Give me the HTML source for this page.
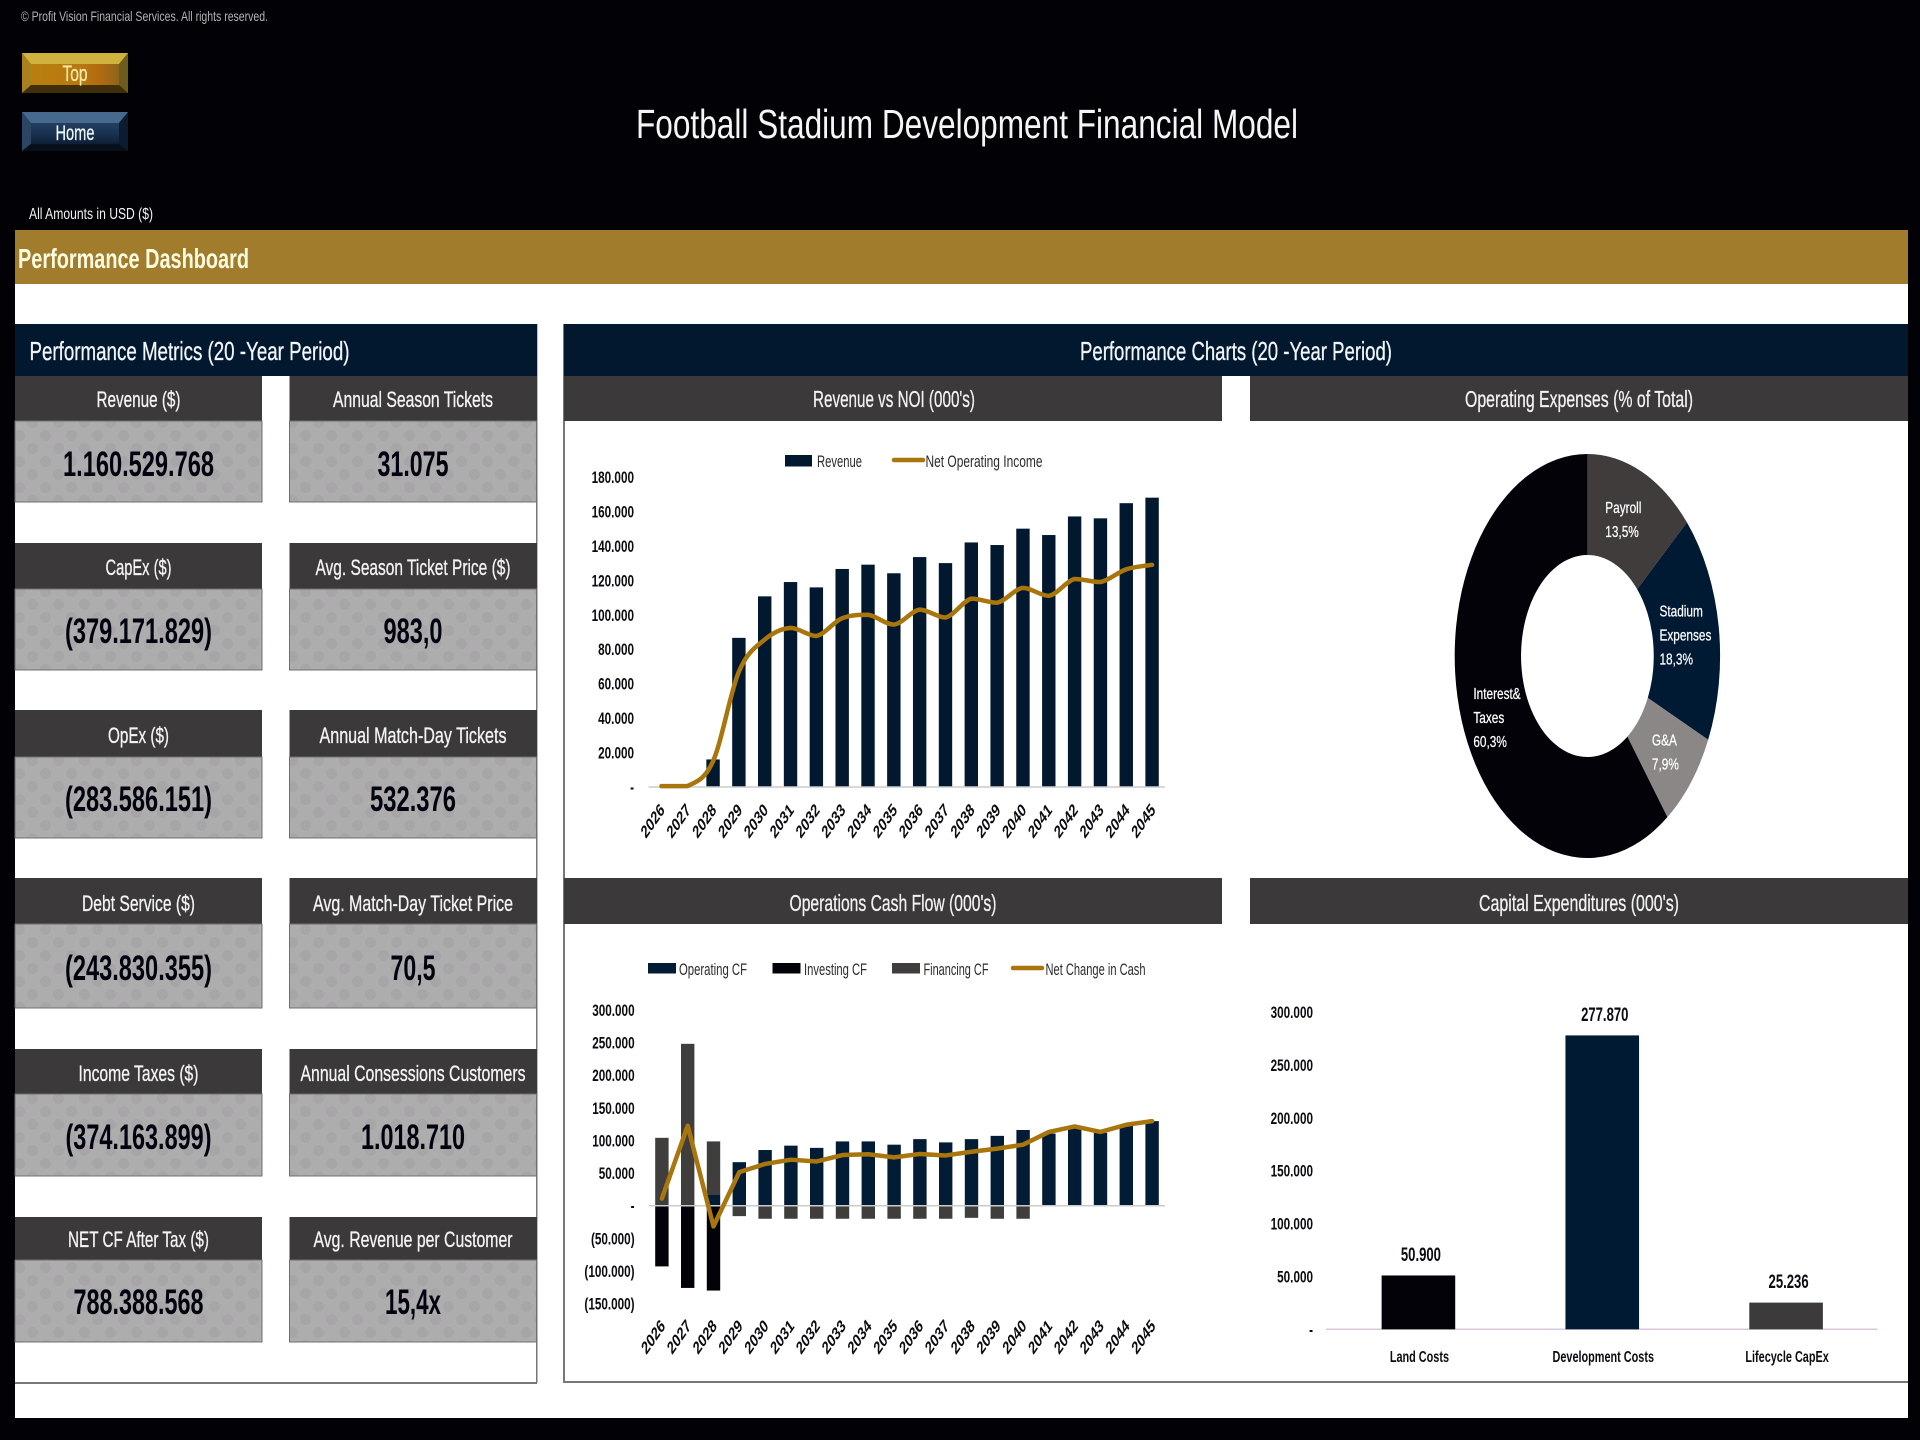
<!DOCTYPE html>
<html lang="en">
<head>
<meta charset="utf-8">
<title>Football Stadium Development Financial Model</title>
<style>
html,body{margin:0;padding:0;background:#010106;}
svg{display:block;}
text{font-family:"Liberation Sans",sans-serif;}
.h{fill:#f4f4f4;stroke:#f4f4f4;stroke-width:.3;font-size:22px;text-anchor:middle;}
.v{fill:#03030f;font-size:35px;font-weight:bold;text-anchor:middle;}
.hd{fill:#3b3939;}
.vb{fill:url(#mottle);stroke:#6f6f6f;stroke-width:1;}
.lg{fill:#2b2b2b;font-size:17px;}
.st{fill:#f2f2f2;stroke:#f2f2f2;stroke-width:.3;font-size:23px;text-anchor:middle;}
</style>
</head>
<body>
<svg id="page" xmlns="http://www.w3.org/2000/svg" width="1920" height="1440" viewBox="0 0 1920 1440">
<defs>
<pattern id="mottle" width="26" height="26" patternUnits="userSpaceOnUse">
<rect width="26" height="26" fill="#adadad"/>
<circle cx="6.5" cy="6.5" r="5.5" fill="#a8a5a8"/>
<circle cx="19.5" cy="19.5" r="5.5" fill="#a8a5a8"/>
</pattern>
<linearGradient id="gt" x1="0" y1="0" x2="1" y2="0">
<stop offset="0" stop-color="#b8800f"/><stop offset=".55" stop-color="#b9780f"/><stop offset=".75" stop-color="#b06a12"/><stop offset="1" stop-color="#7a6420"/>
</linearGradient>
<linearGradient id="gh" x1="0" y1="0" x2="0" y2="1">
<stop offset="0" stop-color="#2c4b70"/><stop offset=".6" stop-color="#17304e"/><stop offset="1" stop-color="#07121f"/>
</linearGradient>
</defs>
<rect width="1920" height="1440" fill="#010106"/>
<rect x="15" y="284" width="1893" height="1134" fill="#ffffff"/>

<text x="21" y="21" font-size="14" fill="#b4b4b4" textLength="247" lengthAdjust="spacingAndGlyphs">© Profit Vision Financial Services. All rights reserved.</text>
<g>
<rect x="22" y="53" width="106" height="40" fill="url(#gt)"/>
<polygon points="22,53 128,53 119,64 31,64" fill="#d0b23e"/>
<polygon points="22,53 31,64 31,85 22,93" fill="#a8801e"/>
<polygon points="128,53 119,64 119,85 128,93" fill="#6e5c1c"/>
<polygon points="22,93 31,85 119,85 128,93" fill="#3f2f0a"/>
<text x="75" y="81" font-size="22" fill="#f3e9a8" stroke="#f3e9a8" stroke-width=".3" text-anchor="middle" textLength="25" lengthAdjust="spacingAndGlyphs">Top</text>
</g>
<g>
<rect x="22" y="112" width="106" height="39" fill="url(#gh)"/>
<polygon points="22,112 128,112 119,123 31,123" fill="#47698e"/>
<polygon points="22,112 31,123 31,144 22,151" fill="#2a4664"/>
<polygon points="128,112 119,123 119,144 128,151" fill="#0c1c30"/>
<polygon points="22,151 31,144 119,144 128,151" fill="#070f1a"/>
<text x="75" y="140" font-size="21" fill="#f2f6fa" stroke="#f2f6fa" stroke-width=".3" text-anchor="middle" textLength="39" lengthAdjust="spacingAndGlyphs">Home</text>
</g>
<text x="636" y="138" font-size="41" fill="#f6f6f6" textLength="662" lengthAdjust="spacingAndGlyphs">Football Stadium Development Financial Model</text>
<text x="29" y="219" font-size="16" fill="#f2f2f2" textLength="124" lengthAdjust="spacingAndGlyphs">All Amounts in  USD ($)</text>
<rect x="15" y="230" width="1893" height="54" fill="#a07c2c"/>
<text x="18" y="268" font-size="28" font-weight="bold" fill="#fffbe0" textLength="231" lengthAdjust="spacingAndGlyphs">Performance Dashboard</text>

<g>
<rect x="536" y="324" width="1.5" height="1059" fill="#777777"/>
<rect x="15" y="1382" width="522" height="2" fill="#777777"/>
<rect x="15" y="324" width="522" height="52" fill="#01182f"/>
<text x="29.5" y="360" font-size="26" fill="#f2f6fa" stroke="#f2f6fa" stroke-width=".3" textLength="320" lengthAdjust="spacingAndGlyphs">Performance Metrics (20 -Year Period)</text>

<g>
<rect class="hd" x="15" y="376" width="247" height="45"/><rect class="vb" x="15" y="421" width="247" height="81"/>
<text class="h" x="138.5" y="407" textLength="84" lengthAdjust="spacingAndGlyphs">Revenue ($)</text>
<text class="v" x="138.5" y="476" textLength="151" lengthAdjust="spacingAndGlyphs">1.160.529.768</text>
</g>
<g>
<rect class="hd" x="289.5" y="376" width="247.5" height="45"/><rect class="vb" x="289.5" y="421" width="247" height="81"/>
<text class="h" x="413" y="407" textLength="160" lengthAdjust="spacingAndGlyphs">Annual Season Tickets</text>
<text class="v" x="413" y="476" textLength="71" lengthAdjust="spacingAndGlyphs">31.075</text>
</g>
<g>
<rect class="hd" x="15" y="543" width="247" height="46"/><rect class="vb" x="15" y="589" width="247" height="81"/>
<text class="h" x="138.5" y="575" textLength="66" lengthAdjust="spacingAndGlyphs">CapEx ($)</text>
<text class="v" x="138.5" y="643" textLength="147" lengthAdjust="spacingAndGlyphs">(379.171.829)</text>
</g>
<g>
<rect class="hd" x="289.5" y="543" width="247.5" height="46"/><rect class="vb" x="289.5" y="589" width="247" height="81"/>
<text class="h" x="413" y="575" textLength="195" lengthAdjust="spacingAndGlyphs">Avg. Season Ticket Price ($)</text>
<text class="v" x="413" y="643" textLength="59" lengthAdjust="spacingAndGlyphs">983,0</text>
</g>
<g>
<rect class="hd" x="15" y="710" width="247" height="47"/><rect class="vb" x="15" y="757" width="247" height="81"/>
<text class="h" x="138.5" y="743" textLength="61" lengthAdjust="spacingAndGlyphs">OpEx ($)</text>
<text class="v" x="138.5" y="811" textLength="147" lengthAdjust="spacingAndGlyphs">(283.586.151)</text>
</g>
<g>
<rect class="hd" x="289.5" y="710" width="247.5" height="47"/><rect class="vb" x="289.5" y="757" width="247" height="81"/>
<text class="h" x="413" y="743" textLength="187" lengthAdjust="spacingAndGlyphs">Annual Match-Day Tickets</text>
<text class="v" x="413" y="811" textLength="86" lengthAdjust="spacingAndGlyphs">532.376</text>
</g>
<g>
<rect class="hd" x="15" y="878" width="247" height="46"/><rect class="vb" x="15" y="924" width="247" height="84"/>
<text class="h" x="138.5" y="911" textLength="113" lengthAdjust="spacingAndGlyphs">Debt Service ($)</text>
<text class="v" x="138.5" y="980" textLength="147" lengthAdjust="spacingAndGlyphs">(243.830.355)</text>
</g>
<g>
<rect class="hd" x="289.5" y="878" width="247.5" height="46"/><rect class="vb" x="289.5" y="924" width="247" height="84"/>
<text class="h" x="413" y="911" textLength="200" lengthAdjust="spacingAndGlyphs">Avg. Match-Day Ticket Price</text>
<text class="v" x="413" y="980" textLength="45" lengthAdjust="spacingAndGlyphs">70,5</text>
</g>
<g>
<rect class="hd" x="15" y="1049" width="247" height="45"/><rect class="vb" x="15" y="1094" width="247" height="82"/>
<text class="h" x="138.5" y="1081" textLength="120" lengthAdjust="spacingAndGlyphs">Income Taxes ($)</text>
<text class="v" x="138.5" y="1149" textLength="146" lengthAdjust="spacingAndGlyphs">(374.163.899)</text>
</g>
<g>
<rect class="hd" x="289.5" y="1049" width="247.5" height="45"/><rect class="vb" x="289.5" y="1094" width="247" height="82"/>
<text class="h" x="413" y="1081" textLength="225" lengthAdjust="spacingAndGlyphs">Annual Consessions Customers</text>
<text class="v" x="413" y="1149" textLength="104" lengthAdjust="spacingAndGlyphs">1.018.710</text>
</g>
<g>
<rect class="hd" x="15" y="1217" width="247" height="43"/><rect class="vb" x="15" y="1260" width="247" height="82"/>
<text class="h" x="138.5" y="1247" textLength="141" lengthAdjust="spacingAndGlyphs">NET CF After Tax ($)</text>
<text class="v" x="138.5" y="1314" textLength="130" lengthAdjust="spacingAndGlyphs">788.388.568</text>
</g>
<g>
<rect class="hd" x="289.5" y="1217" width="247.5" height="43"/><rect class="vb" x="289.5" y="1260" width="247" height="82"/>
<text class="h" x="413" y="1247" textLength="199" lengthAdjust="spacingAndGlyphs">Avg. Revenue per Customer</text>
<text class="v" x="413" y="1314" textLength="56" lengthAdjust="spacingAndGlyphs">15,4x</text>
</g>
</g>

<g>
<rect x="563" y="324" width="2" height="1059" fill="#777777"/>
<rect x="563" y="1381" width="1345" height="2" fill="#777777"/>
<rect x="564" y="324" width="1344" height="52" fill="#01182f"/>
<text x="1080" y="360" font-size="26" fill="#f2f6fa" stroke="#f2f6fa" stroke-width=".3" textLength="312" lengthAdjust="spacingAndGlyphs">Performance Charts (20 -Year Period)</text>

<rect class="hd" x="564" y="376" width="658" height="45"/>
<text class="st" x="894" y="407" textLength="162" lengthAdjust="spacingAndGlyphs">Revenue vs NOI (000's)</text>
<rect class="hd" x="1250" y="376" width="658" height="45"/>
<text class="st" x="1579" y="407" textLength="228" lengthAdjust="spacingAndGlyphs">Operating Expenses (% of Total)</text>
<rect class="hd" x="564" y="878" width="658" height="46"/>
<text class="st" x="893" y="911" textLength="207" lengthAdjust="spacingAndGlyphs">Operations Cash Flow (000's)</text>
<rect class="hd" x="1250" y="878" width="658" height="46"/>
<text class="st" x="1579" y="911" textLength="200" lengthAdjust="spacingAndGlyphs">Capital Expenditures (000's)</text>
</g>

<g id="revenue-chart">
<g>
<rect x="785" y="455" width="27" height="11.5" fill="#01182f"/>
<text class="lg" x="817" y="467" textLength="45" lengthAdjust="spacingAndGlyphs">Revenue</text>
<line x1="894" y1="460" x2="923" y2="460" stroke="#a8760c" stroke-width="4.5" stroke-linecap="round"/>
<text class="lg" x="925.5" y="467" textLength="117" lengthAdjust="spacingAndGlyphs">Net Operating Income</text>
</g>
</g>

<g id="opex-chart"></g>

<g id="cash-chart">
<g>
<rect x="648" y="963" width="28" height="10.5" fill="#011c34"/>
<text class="lg" x="679" y="975" textLength="68" lengthAdjust="spacingAndGlyphs">Operating CF</text>
<rect x="772.5" y="963" width="28" height="10.5" fill="#020208"/>
<text class="lg" x="804" y="975" textLength="63" lengthAdjust="spacingAndGlyphs">Investing CF</text>
<rect x="892" y="963" width="28" height="10.5" fill="#403d3d"/>
<text class="lg" x="923.5" y="975" textLength="65" lengthAdjust="spacingAndGlyphs">Financing CF</text>
<line x1="1013" y1="968" x2="1042" y2="968" stroke="#a8760c" stroke-width="4.5" stroke-linecap="round"/>
<text class="lg" x="1045.5" y="975" textLength="100" lengthAdjust="spacingAndGlyphs">Net Change in Cash</text>
</g>
</g>

<g id="capex-chart"></g>
</svg>

<script>
// Shared categories
const years = [2026,2027,2028,2029,2030,2031,2032,2033,2034,2035,2036,2037,2038,2039,2040,2041,2042,2043,2044,2045];

// Revenue vs NOI (000's)
const revenueTicks = [0,20000,40000,60000,80000,100000,120000,140000,160000,180000];
const revenueValues = [0,0,16000,86600,110700,119000,115900,126600,129100,124100,133500,130000,142000,140500,150000,146300,157100,156000,164800,168000];
const noiValues = [500,500,15000,67000,85600,92400,87700,98000,100000,94300,103000,98400,109400,107000,115600,111000,120800,119000,126400,129000];

// Operating expenses (% of total)
const opexCategories = [['Payroll'],['Stadium','Expenses'],['G&A'],['Interest&','Taxes']];
const opexShares = [13.5,18.3,7.9,60.3];
const opexColors = ['#403c3c','#011a33','#8a8786','#020208'];

// Operations cash flow (000's)
const cashTicks = [-150000,-100000,-50000,0,50000,100000,150000,200000,250000,300000];
const operatingCF = [0,0,17500,66700,85300,92000,88600,98500,98500,93500,102000,97000,102000,107000,116000,110500,121500,111600,122500,129600];
const investingCF = [-93000,-126000,-130000,0,0,0,0,0,0,0,0,0,0,0,0,0,0,0,0,0];
const financingCF = [104000,248000,81000,-16000,-20000,-20000,-20000,-20000,-20000,-20000,-20000,-20000,-18600,-20000,-20000,0,0,0,0,0];
const netChange = [11000,122500,-31700,51400,64000,70500,67800,77600,78800,74000,79300,77000,82600,87500,93500,113000,121500,113000,124000,129600];

// Capital expenditures (000's)
const capexCategories = ['Land Costs','Development Costs','Lifecycle CapEx'];
const capexValues = [50900,277870,25236];
const capexPrinted = ['50.900','277.870','25.236'];
const capexTicks = [0,50000,100000,150000,200000,250000,300000];
const capexColors = ['#020208','#011a33','#3c3a3a'];

const NS = 'http://www.w3.org/2000/svg';
const SX = 0.69;
const LINE = '#a8760c';

function mk(parent, tag, attrs, txt) {
  const el = document.createElementNS(NS, tag);
  for (const k in attrs) el.setAttribute(k, attrs[k]);
  if (txt !== undefined) el.textContent = txt;
  parent.appendChild(el);
  return el;
}
function fmt(v) {
  if (v === 0) return '-';
  const s = String(Math.abs(v)).replace(/\B(?=(\d{3})+$)/g, '.');
  return v < 0 ? '(' + s + ')' : s;
}
function linear(d0, d1, r0, r1) {
  return function (v) { return r0 + (v - d0) * (r1 - r0) / (d1 - d0); };
}
function band(x0, x1, n) {
  const w = (x1 - x0) / n;
  return function (i) { return x0 + w * (i + 0.5); };
}
function clamp(v, a, b) {
  return Math.max(Math.min(a, b), Math.min(Math.max(a, b), v));
}
function smoothPath(pts) {
  let d = 'M' + pts[0][0] + ' ' + pts[0][1];
  for (let i = 0; i < pts.length - 1; i++) {
    const p0 = pts[Math.max(i - 1, 0)], p1 = pts[i], p2 = pts[i + 1], p3 = pts[Math.min(i + 2, pts.length - 1)];
    const c1y = clamp(p1[1] + (p2[1] - p0[1]) / 6, p1[1], p2[1]);
    const c2y = clamp(p2[1] - (p3[1] - p1[1]) / 6, p1[1], p2[1]);
    d += ' C' + (p1[0] + (p2[0] - p0[0]) / 6) + ' ' + c1y + ' ' +
         (p2[0] - (p3[0] - p1[0]) / 6) + ' ' + c2y + ' ' + p2[0] + ' ' + p2[1];
  }
  return d;
}
function yTicks(g, ticks, y, xRight) {
  ticks.forEach(function (t) {
    const el = mk(g, 'text', {
      transform: 'translate(' + xRight + ',' + (y(t) + 6) + ') scale(' + SX + ',1)',
      'text-anchor': 'end', 'font-size': 17, 'font-weight': 'bold', fill: '#0b0b12'
    }, fmt(t));
    
    
  });
}
function yearLabels(g, x, yPos) {
  years.forEach(function (yr, i) {
    const el = mk(g, 'text', {
      transform: 'translate(' + (x(i) + 4) + ',' + yPos + ') scale(' + SX + ',1) rotate(-45)',
      'text-anchor': 'end', 'font-size': 18, 'font-weight': 'bold', fill: '#0b0b12'
    }, String(yr));
    
    
  });
}

// ---- Revenue vs NOI
(function () {
  const g = document.getElementById('revenue-chart');
  const x = band(648.5, 1165, years.length);
  const y = linear(0, 180000, 787, 477);
  yTicks(g, revenueTicks, y, 634);
  revenueValues.forEach(function (v, i) {
    const bar = mk(g, 'rect', { x: x(i) - 6.7, y: y(v), width: 13.4, height: y(0) - y(v), fill: '#01182f' });
    
    
  });
  const axis = mk(g, 'line', { x1: x(0) - 12.9, x2: x(years.length - 1) + 12.9, y1: y(0), y2: y(0), stroke: '#cccccc', 'stroke-width': 1.5 });
  
  
  const line = mk(g, 'path', {
    d: smoothPath(noiValues.map(function (v, i) { return [x(i), y(v)]; })),
    fill: 'none', stroke: LINE, 'stroke-width': 4.5, 'stroke-linecap': 'round', 'stroke-linejoin': 'round'
  });
  
  
  yearLabels(g, x, 811);
})();

// ---- Operating expenses donut
(function () {
  const g = document.getElementById('opex-chart');
  const cx = 1587.4, cy = 656, rx = 132.7, ry = 202, hole = 0.5;
  const total = opexShares.reduce(function (a, b) { return a + b; }, 0);
  const ang = linear(0, total, 0, Math.PI * 2);
  let cum = 0;
  opexShares.forEach(function (s, i) {
    const a0 = ang(cum), a1 = ang(cum + s), large = a1 - a0 > Math.PI ? 1 : 0;
    const px = function (a, f) { return cx + rx * f * Math.sin(a); };
    const py = function (a, f) { return cy - ry * f * Math.cos(a); };
    const d = 'M' + px(a0, 1) + ' ' + py(a0, 1) +
      ' A' + rx + ' ' + ry + ' 0 ' + large + ' 1 ' + px(a1, 1) + ' ' + py(a1, 1) +
      ' L' + px(a1, hole) + ' ' + py(a1, hole) +
      ' A' + (rx * hole) + ' ' + (ry * hole) + ' 0 ' + large + ' 0 ' + px(a0, hole) + ' ' + py(a0, hole) + ' Z';
    const slice = mk(g, 'path', { d: d, fill: opexColors[i] });
    
    
    const mid = (a0 + a1) / 2;
    const lines = opexCategories[i].concat([s.toFixed(1).replace('.', ',') + '%']);
    const chars = Math.max.apply(null, lines.map(function (t) { return t.length; }));
    const isLargest = s === Math.max.apply(null, opexShares);
    const lx = px(mid, 0.75) - chars * 3.3 + (isLargest ? 10 : 0);
    const ly = py(mid, 0.75) + (isLargest ? 12 : 0) - (lines.length - 1) * 12 + 7;
    lines.forEach(function (t, j) {
      const lab = mk(g, 'text', {
        transform: 'translate(' + lx + ',' + (ly + j * 24) + ') scale(.74,1)',
        'font-size': 16, fill: '#ffffff', stroke: '#ffffff', 'stroke-width': 0.25
      }, t);
      
      
    });
    cum += s;
  });
})();

// ---- Cash flow
(function () {
  const g = document.getElementById('cash-chart');
  const x = band(649, 1165, years.length);
  const y = linear(0, 300000, 1205.7, 1009.9);
  yTicks(g, cashTicks, y, 634.6);
  const series = [[operatingCF, '#011c34', 'operating-cf-bar'], [investingCF, '#020208', 'investing-cf-bar'], [financingCF, '#403d3d', 'financing-cf-bar']];
  years.forEach(function (yr, i) {
    let pos = 0, neg = 0;
    series.forEach(function (s) {
      const v = s[0][i];
      if (v === 0) return;
      const base = v > 0 ? pos : neg;
      const top = base + v;
      const bar = mk(g, 'rect', {
        x: x(i) - 6.7, y: Math.min(y(base), y(top)), width: 13.4,
        height: Math.abs(y(base) - y(top)), fill: s[1]
      });
      
      
      if (v > 0) pos = top; else neg = top;
    });
  });
  const axis = mk(g, 'line', { x1: x(0) - 12.9, x2: x(years.length - 1) + 12.9, y1: y(0), y2: y(0), stroke: '#c8cccc', 'stroke-width': 1.5 });
  
  
  const line = mk(g, 'polyline', {
    points: netChange.map(function (v, i) { return x(i) + ',' + y(v); }).join(' '),
    fill: 'none', stroke: LINE, 'stroke-width': 4.5, 'stroke-linecap': 'round', 'stroke-linejoin': 'round'
  });
  
  
  yearLabels(g, x, 1327);
})();

// ---- Capex
(function () {
  const g = document.getElementById('capex-chart');
  const x = band(1326, 1877.5, capexValues.length);
  const y = linear(0, 300000, 1329.3, 1012);
  yTicks(g, capexTicks, y, 1313);
  const axis = mk(g, 'line', { x1: 1326, x2: 1877.5, y1: y(0), y2: y(0), stroke: '#d9c9d9', 'stroke-width': 1.5 });
  
  
  capexValues.forEach(function (v, i) {
    const bar = mk(g, 'rect', { x: x(i) - 36.3, y: y(v), width: 73.6, height: y(0) - y(v), fill: capexColors[i] });
    
    
    const val = mk(g, 'text', {
      transform: 'translate(' + (x(i) + 3) + ',' + (y(v) - 14.5) + ') scale(' + SX + ',1)',
      'text-anchor': 'middle', 'font-size': 19, 'font-weight': 'bold', fill: '#0b0b12'
    }, capexPrinted[i]);
    
    
    const cat = mk(g, 'text', {
      transform: 'translate(' + (x(i) + 1.5) + ',1362) scale(.68,1)',
      'text-anchor': 'middle', 'font-size': 16, 'font-weight': 'bold', fill: '#0b0b12'
    }, capexCategories[i]);
    
    
  });
})();
</script>
</body>
</html>
